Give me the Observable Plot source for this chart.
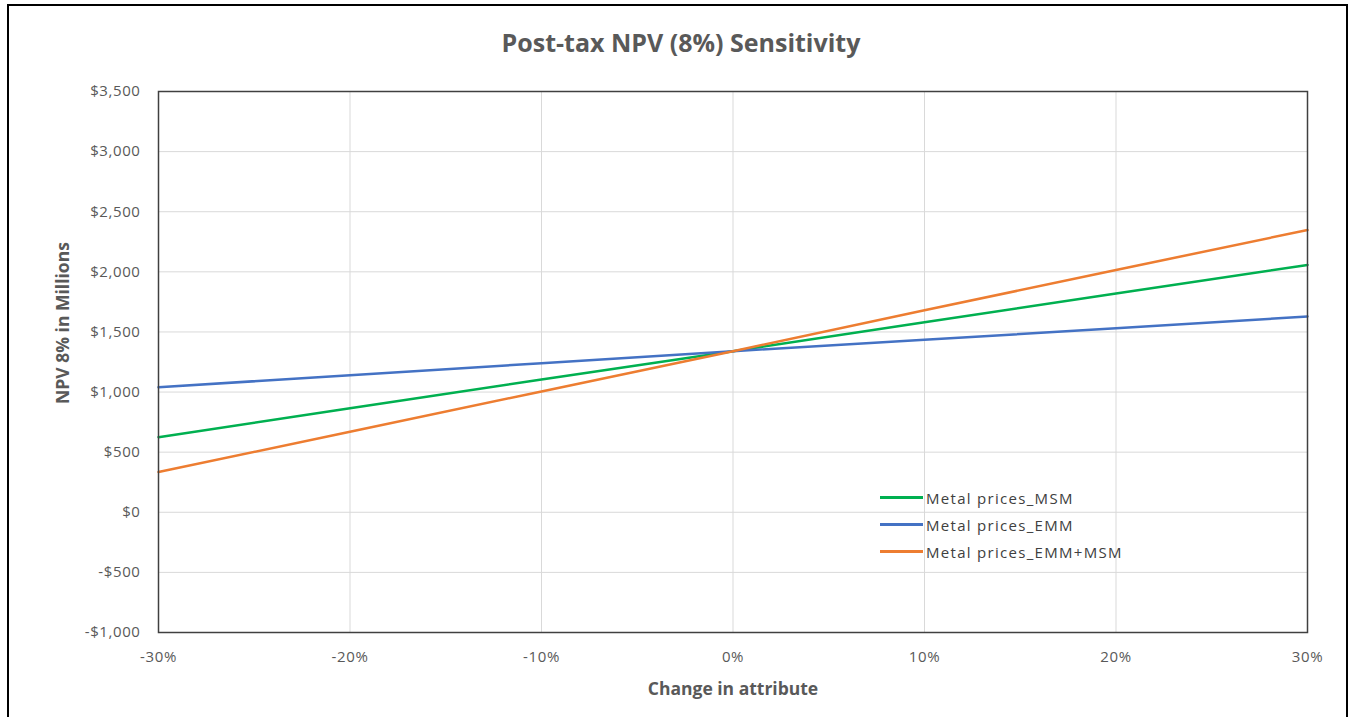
<!DOCTYPE html>
<html>
<head>
<meta charset="utf-8">
<script src="https://cdn.jsdelivr.net/npm/d3@7"></script>
<script src="https://cdn.jsdelivr.net/npm/@observablehq/plot@0.6"></script>
<style>
  html, body { margin: 0; padding: 0; background: #fff; overflow: hidden; }
  #wrap { position: relative; width: 1358px; height: 717px; font-family: "Open Sans", sans-serif; }
  #border { position: absolute; left: 7px; top: 4px; width: 1341px; height: 720px; border: 2.5px solid #000; box-sizing: border-box; }
  #title { position: absolute; left: 0; width: 1362px; top: 25px; text-align: center; font-size: 25px; font-weight: bold; color: #595959; line-height: 34px; }
  #chart { position: absolute; left: 0; top: 0; }
  #xlabel { position: absolute; left: 0; width: 1466px; top: 676px; text-align: center; font-size: 17.5px; font-weight: bold; color: #595959; line-height: 24px; }
  #ylabel { position: absolute; left: 62px; top: 323px; transform: translate(-50%, -50%) rotate(-90deg); white-space: nowrap; font-size: 17.5px; font-weight: bold; color: #595959; line-height: 24px; }
  #legend { position: absolute; left: 880px; top: 484px; font-size: 15px; letter-spacing: 1.3px; color: #404040; }
  .li { display: flex; align-items: center; height: 27px; }
  .sw { width: 43px; height: 3px; margin-right: 3px; }
  #chart svg g[aria-label="y-axis tick label"] text, #chart svg g[aria-label="x-axis tick label"] text { letter-spacing: 0.6px; }
</style>
</head>
<body>
<div id="wrap">
  <div id="chart"></div>
  <div id="title">Post-tax NPV (8%) Sensitivity</div>
  <div id="xlabel">Change in attribute</div>
  <div id="ylabel">NPV 8% in Millions</div>
  <div id="legend"></div>
  <div id="border"></div>
</div>
<script>
const changes = [-0.30, -0.20, -0.10, 0, 0.10, 0.20, 0.30];
const seriesNames = ["Metal prices_MSM", "Metal prices_EMM", "Metal prices_EMM+MSM"];
const seriesColors = ["#00b050", "#4472c4", "#ed7d31"];
const msmValues = [625, 865, 1105, 1340, 1580, 1820, 2057];
const emmValues = [1040, 1140, 1240, 1340, 1435, 1530, 1628];
const bothValues = [335, 670, 1005, 1340, 1680, 2015, 2348];
const yTicks = [-1000, -500, 0, 500, 1000, 1500, 2000, 2500, 3000, 3500];
const xTicks = [-0.30, -0.20, -0.10, 0, 0.10, 0.20, 0.30];

const valueSets = [msmValues, emmValues, bothValues];
const rows = [];
seriesNames.forEach((s, i) => changes.forEach((c, j) => rows.push({series: s, change: c, value: valueSets[i][j]})));

const fmtMoney = d => (d < 0 ? "-$" : "$") + d3.format(",")(Math.abs(d));
const fmtPct = d => (d < 0 ? "-" : "") + Math.round(Math.abs(d) * 100) + "%";

const chart = Plot.plot({
  width: 1358,
  height: 717,
  marginLeft: 158,
  marginRight: 51,
  marginTop: 91,
  marginBottom: 85,
  style: {fontFamily: "'Open Sans', sans-serif", fontSize: "15px", color: "#595959", background: "transparent"},
  x: {domain: [-0.30, 0.30]},
  y: {domain: [-1000, 3500]},
  color: {domain: seriesNames, range: seriesColors},
  marks: [
    Plot.gridX(xTicks, {stroke: "#d9d9d9", strokeOpacity: 1, strokeWidth: 1}),
    Plot.gridY(yTicks, {stroke: "#d9d9d9", strokeOpacity: 1, strokeWidth: 1}),
    Plot.axisY(yTicks, {tickSize: 0, tickPadding: 18, tickFormat: fmtMoney, fill: "#595959", fontSize: 15, label: null}),
    Plot.axisX(xTicks, {tickSize: 0, tickPadding: 19, tickFormat: fmtPct, fill: "#595959", fontSize: 15, label: null}),
    Plot.line(rows, {x: "change", y: "value", z: "series", stroke: "series", strokeWidth: 2.5}),
    Plot.frame({stroke: "#404040", strokeWidth: 1.5})
  ]
});
document.getElementById("chart").appendChild(chart);

const legend = document.getElementById("legend");
seriesNames.forEach((s, i) => {
  const d = document.createElement("div");
  d.className = "li";
  d.innerHTML = `<span class="sw" style="background:${seriesColors[i]}"></span><span>${s}</span>`;
  legend.appendChild(d);
});
</script>
</body>
</html>
